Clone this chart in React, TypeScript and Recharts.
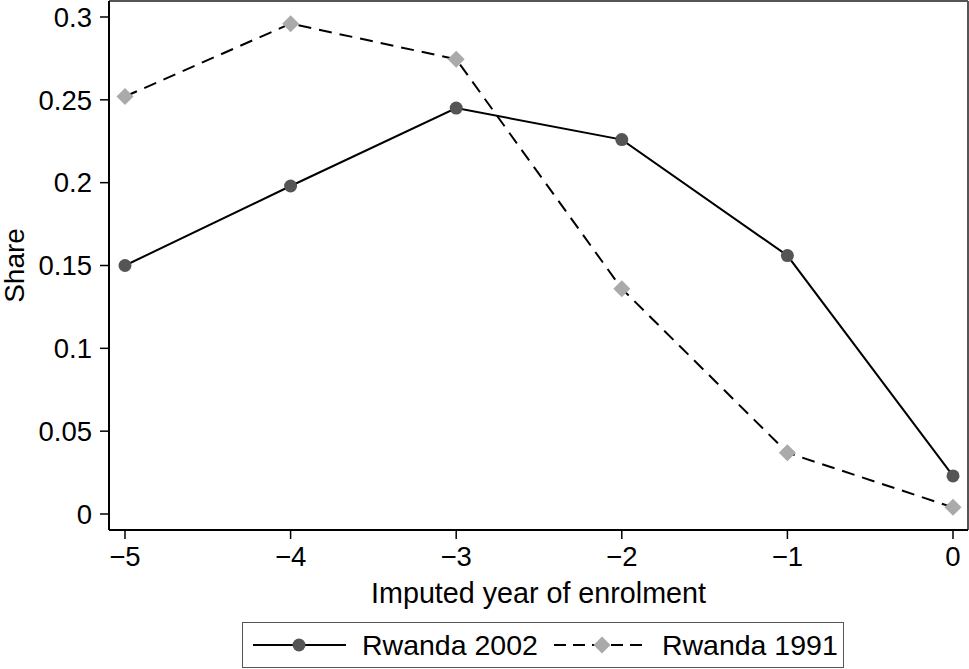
import React from 'react';
import {
  LineChart,
  Line,
  XAxis,
  YAxis,
  Legend,
} from 'recharts';

// imputed year of enrolment
const years = [-5, -4, -3, -2, -1, 0];
const rwanda2002 = [0.150, 0.198, 0.245, 0.226, 0.156, 0.023];
const rwanda1991 = [0.252, 0.296, 0.2745, 0.136, 0.037, 0.004];
const yTicks = [0, 0.05, 0.1, 0.15, 0.2, 0.25, 0.3];
const seriesNames = ['Rwanda 2002', 'Rwanda 1991'];

const data = years.map((year, i) => ({
  year,
  r2002: rwanda2002[i],
  r1991: rwanda1991[i],
}));

const FONT = '"Liberation Sans", Arial, Helvetica, sans-serif';
const DOT = '#555555';
const DIAMOND = '#aaaaaa';

const Diamond = (props: any) => {
  const { cx, cy } = props;
  if (cx == null || cy == null) return null;
  const r = 8.5;
  return (
    <path
      d={`M${cx},${cy - r} L${cx + r},${cy} L${cx},${cy + r} L${cx - r},${cy} Z`}
      fill={DIAMOND}
      stroke="none"
    />
  );
};

const ShareLabel = (props: any) => {
  const { viewBox } = props;
  const x = viewBox.x + 14;
  const y = viewBox.y + viewBox.height / 2;
  return (
    <text
      x={x}
      y={y}
      transform={`rotate(-90, ${x}, ${y})`}
      textAnchor="middle"
      dominantBaseline="central"
      fontSize={28}
      fontFamily={FONT}
      fill="#000"
    >
      Share
    </text>
  );
};

const LegendBox = () => (
  <div
    style={{
      width: 602,
      height: 46,
      border: '1.5px solid #555',
      display: 'flex',
      alignItems: 'center',
      fontFamily: FONT,
      fontSize: 28.5,
      color: '#000',
      boxSizing: 'border-box',
    }}
  >
    <svg width={104} height={20} style={{ marginLeft: 8 }}>
      <line x1={2} y1={10} x2={95} y2={10} stroke="#000" strokeWidth={2} />
      <circle cx={48} cy={10} r={6.5} fill={DOT} />
    </svg>
    <span style={{ marginLeft: 7 }}>{seriesNames[0]}</span>
    <svg width={106} height={20} style={{ marginLeft: 14 }}>
      <line x1={2} y1={10} x2={96} y2={10} stroke="#000" strokeWidth={2} strokeDasharray="12 7" />
      <path d="M50,1.5 L58.5,10 L50,18.5 L41.5,10 Z" fill={DIAMOND} />
    </svg>
    <span style={{ marginLeft: 4 }}>{seriesNames[1]}</span>
  </div>
);

const fmtMinus = (v: number) => String(v).replace('-', '\u2212');

export default function App() {
  return (
    <div style={{ position: 'absolute', left: 0, top: 0, width: 969, height: 669, background: '#fff' }}>
      <LineChart
        width={969}
        height={669}
        data={data}
        margin={{ top: 0, right: 0, left: 0, bottom: 0 }}
      >
        {/* frame top/right */}
        <XAxis
          xAxisId="top"
          orientation="top"
          dataKey="year"
          type="number"
          domain={[-5, 0]}
          height={1}
          tick={false}
          tickLine={false}
          axisLine={{ stroke: '#555', strokeWidth: 2 }}
        />
        <YAxis
          yAxisId="right"
          orientation="right"
          type="number"
          domain={[0, 0.3]}
          width={1}
          tick={false}
          tickLine={false}
          axisLine={{ stroke: '#555', strokeWidth: 2 }}
        />
        <XAxis
          dataKey="year"
          type="number"
          domain={[-5, 0]}
          ticks={years}
          padding={{ left: 16, right: 15 }}
          height={139}
          tickSize={9}
          tickMargin={7}
          tickFormatter={fmtMinus}
          tick={{ fontSize: 27.5, fill: '#000', fontFamily: FONT }}
          axisLine={{ stroke: '#000', strokeWidth: 2 }}
          tickLine={{ stroke: '#000', strokeWidth: 1.5 }}
          label={{
            value: 'Imputed year of enrolment',
            position: 'insideTop',
            offset: 53,
            fontSize: 28.7,
            fill: '#000',
            fontFamily: FONT,
          }}
        />
        <YAxis
          type="number"
          domain={[0, 0.3]}
          ticks={yTicks}
          padding={{ top: 16, bottom: 16 }}
          width={109}
          tickSize={9}
          tickMargin={8}
          tick={{ fontSize: 27.5, fill: '#000', fontFamily: FONT }}
          axisLine={{ stroke: '#000', strokeWidth: 2 }}
          tickLine={{ stroke: '#000', strokeWidth: 1.5 }}
          label={<ShareLabel />}
        />
        <Legend
          layout="horizontal"
          verticalAlign="middle"
          align="center"
          content={<LegendBox />}
          wrapperStyle={{ left: 242, top: 622, width: 604, height: 46 }}
        />
        <Line
          dataKey="r2002"
          name={seriesNames[0]}
          stroke="#000"
          strokeWidth={2}
          dot={{ r: 6.5, fill: DOT, stroke: 'none' }}
          isAnimationActive={false}
        />
        <Line
          dataKey="r1991"
          name={seriesNames[1]}
          stroke="#000"
          strokeWidth={2}
          strokeDasharray="13 8"
          dot={<Diamond />}
          isAnimationActive={false}
        />
      </LineChart>
    </div>
  );
}
